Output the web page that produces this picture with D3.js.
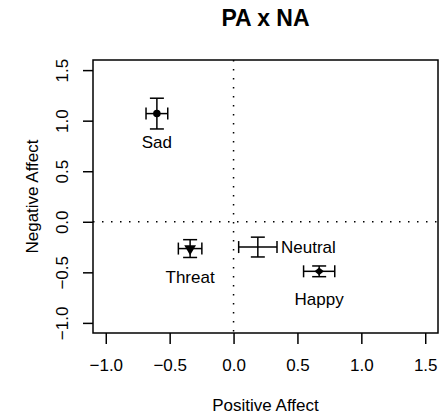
<!DOCTYPE html>
<html>
<head>
<meta charset="utf-8">
<script src="https://cdn.jsdelivr.net/npm/d3@7"></script>
<style>
  body { margin: 0; background: #fff; }
  svg { display: block; font-family: "Liberation Sans", Arial, Helvetica, sans-serif; }
</style>
</head>
<body>
<div id="chart"></div>
<script>
// PA x NA scatter with error bars in both directions
const conditions = ['Sad', 'Threat', 'Neutral', 'Happy'];
const paMean = [-0.60, -0.34, 0.19, 0.67];
const paErr = [0.085, 0.092, 0.15, 0.122];
const naMean = [1.07, -0.265, -0.25, -0.49];
const naErr = [0.152, 0.088, 0.098, 0.053];
const markers = ['circle', 'triangle', 'none', 'diamond'];
const labelSide = ['below', 'below', 'right', 'below'];
const xTicks = [-1.0, -0.5, 0.0, 0.5, 1.0, 1.5];
const yTicks = [-1.0, -0.5, 0.0, 0.5, 1.0, 1.5];

const W = 440, H = 419;
const margin = { top: 60, right: 2, bottom: 86, left: 93 };
const width = W - margin.left - margin.right;
const height = H - margin.top - margin.bottom;
const fs = '17px';

const svg = d3.select('#chart').append('svg')
    .attr('width', W)
    .attr('height', H);

const g = svg.append('g')
    .attr('transform', `translate(${margin.left},${margin.top})`);

const x = d3.scaleLinear().domain([-1.1, 1.6]).range([0, width]);
const y = d3.scaleLinear().domain([-1.1, 1.6]).range([height, 0]);

const fmt = d => (d < 0 ? '\u2212' : '') + Math.abs(d).toFixed(1);

// reference lines at zero
g.append('line')
    .attr('x1', x(0)).attr('x2', x(0))
    .attr('y1', 0).attr('y2', height)
    .attr('stroke', '#000').attr('stroke-width', 1.5)
    .attr('stroke-dasharray', '1.5,7.5');
g.append('line')
    .attr('x1', 0).attr('x2', width)
    .attr('y1', y(0)).attr('y2', y(0))
    .attr('stroke', '#000').attr('stroke-width', 1.5)
    .attr('stroke-dasharray', '1.5,7.5');

// axes
const xAxis = g.append('g')
    .attr('transform', `translate(0,${height})`)
    .call(d3.axisBottom(x).tickValues(xTicks).tickFormat(fmt).tickSize(11));
xAxis.select('.domain').remove();
xAxis.selectAll('line').attr('stroke', '#000').attr('stroke-width', 1.5);
xAxis.selectAll('text')
    .attr('y', 26)
    .attr('fill', '#000')
    .style('font-size', fs);

const yAxis = g.append('g')
    .call(d3.axisLeft(y).tickValues(yTicks).tickFormat(fmt).tickSize(10));
yAxis.select('.domain').remove();
yAxis.selectAll('line').attr('stroke', '#000').attr('stroke-width', 1.5);
yAxis.selectAll('text')
    .attr('x', 0).attr('y', 0).attr('dy', null)
    .attr('text-anchor', 'middle')
    .attr('dominant-baseline', 'central')
    .attr('transform', `translate(${62 - margin.left},0) rotate(-90)`)
    .attr('fill', '#000')
    .style('font-size', fs);

// box
g.append('rect')
    .attr('width', width).attr('height', height)
    .attr('fill', 'none')
    .attr('stroke', '#000').attr('stroke-width', 1.5);

// error bars
const data = conditions.map((c, i) => ({
    name: c, pa: paMean[i], paE: paErr[i], na: naMean[i], naE: naErr[i],
    marker: markers[i], side: labelSide[i]
}));

const bars = g.selectAll('.err').data(data).enter().append('g').attr('class', 'err')
    .attr('stroke', '#000').attr('stroke-width', 1.5);

// vertical (NA) bars
bars.append('line')
    .attr('x1', d => x(d.pa)).attr('x2', d => x(d.pa))
    .attr('y1', d => y(d.na - d.naE)).attr('y2', d => y(d.na + d.naE));
bars.append('line')
    .attr('x1', d => x(d.pa) - 7).attr('x2', d => x(d.pa) + 7)
    .attr('y1', d => y(d.na + d.naE)).attr('y2', d => y(d.na + d.naE));
bars.append('line')
    .attr('x1', d => x(d.pa) - 7).attr('x2', d => x(d.pa) + 7)
    .attr('y1', d => y(d.na - d.naE)).attr('y2', d => y(d.na - d.naE));

// horizontal (PA) bars
bars.append('line')
    .attr('x1', d => x(d.pa - d.paE)).attr('x2', d => x(d.pa + d.paE))
    .attr('y1', d => y(d.na)).attr('y2', d => y(d.na));
bars.append('line')
    .attr('x1', d => x(d.pa - d.paE)).attr('x2', d => x(d.pa - d.paE))
    .attr('y1', d => y(d.na) - 6).attr('y2', d => y(d.na) + 6);
bars.append('line')
    .attr('x1', d => x(d.pa + d.paE)).attr('x2', d => x(d.pa + d.paE))
    .attr('y1', d => y(d.na) - 6).attr('y2', d => y(d.na) + 6);

// markers
const symbolType = {
    circle: d3.symbolCircle,
    triangle: d3.symbolTriangle,
    diamond: d3.symbolDiamond
};
const symbolSize = { circle: 45, triangle: 60, diamond: 45 };
g.selectAll('.pt').data(data.filter(d => d.marker !== 'none')).enter()
    .append('path')
    .attr('class', 'pt')
    .attr('d', d => d3.symbol().type(symbolType[d.marker]).size(symbolSize[d.marker])())
    .attr('transform', d => {
        const rot = d.marker === 'triangle' ? ' rotate(180)' : '';
        const sx = d.marker === 'diamond' ? ' scale(1.3,0.62)' : '';
        return `translate(${x(d.pa)},${y(d.na)})${rot}${sx}`;
    })
    .attr('fill', '#000');

// condition labels
g.selectAll('.lbl').data(data).enter().append('text')
    .attr('class', 'lbl')
    .attr('x', d => d.side === 'right' ? x(d.pa + d.paE) + 4 : x(d.pa))
    .attr('y', d => d.side === 'right' ? y(d.na) + 6 : y(d.na) + 34)
    .attr('text-anchor', d => d.side === 'right' ? 'start' : 'middle')
    .style('font-size', fs)
    .attr('fill', '#000')
    .text(d => d.name);

// titles
svg.append('text')
    .attr('x', margin.left + width / 2).attr('y', 26)
    .attr('text-anchor', 'middle')
    .style('font-size', '23px').style('font-weight', 'bold')
    .text('PA x NA');

svg.append('text')
    .attr('x', margin.left + width / 2).attr('y', 411)
    .attr('text-anchor', 'middle')
    .style('font-size', fs)
    .text('Positive Affect');

svg.append('text')
    .attr('transform', `translate(38,${margin.top + height / 2}) rotate(-90)`)
    .attr('text-anchor', 'middle')
    .style('font-size', fs)
    .text('Negative Affect');
</script>
</body>
</html>
